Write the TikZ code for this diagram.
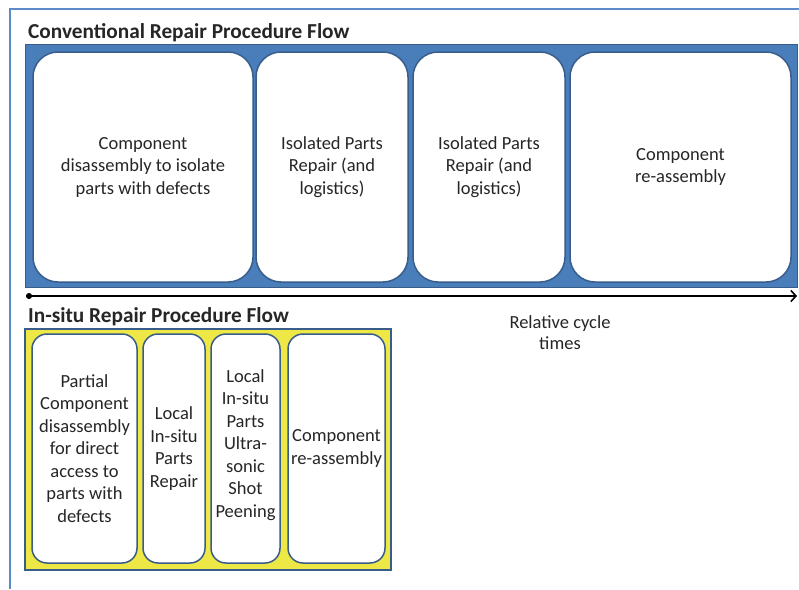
\documentclass[tikz,border=0pt]{standalone}
\usepackage{fontspec}
\setmainfont{Carlito}
\usetikzlibrary{arrows.meta}
\definecolor{frameblue}{RGB}{91,139,200}
\definecolor{convfill}{RGB}{74,126,187}
\definecolor{boxline}{RGB}{56,93,138}
\definecolor{insitufill}{RGB}{238,232,70}
\definecolor{txt}{RGB}{38,38,38}
\tikzset{
  bigbox/.style={draw=boxline,line width=1.5pt,fill=white,rounded corners=25pt,
    minimum height=230pt,align=center,text=txt,text depth=3pt,font=\fontsize{18.5}{22.5}\selectfont},
  smallbox/.style={draw=boxline,line width=1.5pt,fill=white,rounded corners=15pt,
    minimum height=229pt,align=center,text=txt,inner sep=0pt,font=\fontsize{18.5}{22.5}\selectfont},
  flowtitle/.style={anchor=base west,inner sep=0pt,text=txt,font=\fontsize{21.3}{24}\selectfont\bfseries}
}
\begin{document}
\begin{tikzpicture}[x=1pt,y=-1pt]
\useasboundingbox (0,0) rectangle (799,589);
\fill[white] (0,0) rectangle (799,589);
\draw[frameblue,line width=2pt] (10,589)--(10,9)--(799,9);
\node[flowtitle] (convtitle) at (28,38) {Conventional Repair Procedure Flow};
\draw[boxline,fill=convfill,line width=1pt] (25,44) rectangle (797,287);
\node[bigbox,minimum width=220pt] (disasm) at (143,167) {Component\\disassembly to isolate\\parts with defects};
\node[bigbox,minimum width=152pt] (repairA) at (332,167) {Isolated Parts\\Repair (and\\logistics)};
\node[bigbox,minimum width=152pt] (repairB) at (489,167) {Isolated Parts\\Repair (and\\logistics)};
\node[bigbox,minimum width=221pt] (reasm) at (680.5,167) {Component\\re-assembly};
\coordinate (tstart) at (26,296);
\coordinate (tend) at (797,296);
\draw[black,line width=1.6pt,{Circle[length=6pt]}-{Straight Barb[length=5pt,width=11pt]}] (tstart)--(tend);
\node[text=txt,align=center,font=\fontsize{18.5}{21}\selectfont] (cycle) at (560,333) {Relative cycle\\times};
\node[flowtitle] (insitutitle) at (28,322) {In-situ Repair Procedure Flow};
\draw[boxline,fill=insitufill,line width=1.5pt] (25,329) rectangle (391,570);
\node[smallbox,minimum width=105pt] (partdis) at (84.5,448.5) {Partial\\Component\\disassembly\\for direct\\access to\\parts with\\defects};
\node[smallbox,minimum width=62pt] (localrep) at (174,448.5) {Local\\In-situ\\Parts\\Repair};
\node[smallbox,minimum width=69pt,text depth=10pt] (peening) at (245.5,448.5) {Local\\In-situ\\Parts\\Ultra-\\sonic\\Shot\\Peening};
\node[smallbox,minimum width=97pt] (reasmb) at (336.5,448.5) {Component\\re-assembly};
\end{tikzpicture}
\end{document}
